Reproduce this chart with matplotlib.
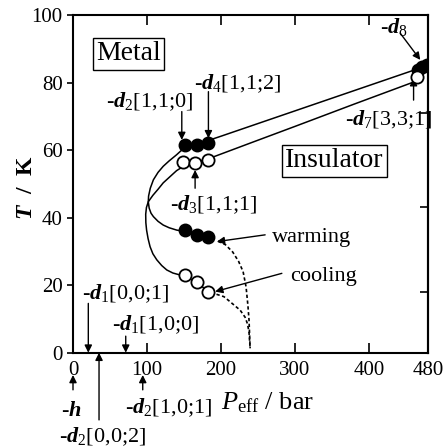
import matplotlib
matplotlib.use("Agg")
import matplotlib.pyplot as plt

plt.rcParams["font.family"] = ["Liberation Serif", "DejaVu Serif"]
plt.rcParams["mathtext.fontset"] = "custom"
plt.rcParams["mathtext.rm"] = "Liberation Serif"
plt.rcParams["mathtext.it"] = "Liberation Serif:italic"
plt.rcParams["mathtext.bf"] = "Liberation Serif:bold"
plt.rcParams["mathtext.bfit"] = "Liberation Serif:bold:italic"

filled_P = [151.6, 167.4, 183.1, 151.6, 167.4, 183.1, 466, 472, 478]
filled_T = [61.5, 61.5, 62.2, 36.3, 34.9, 34.4, 83.8, 84.6, 85.3]
open_P = [149.2, 165.1, 183.1, 151.6, 167.4, 183.1, 465]
open_T = [56.6, 56.1, 57.1, 23.0, 21.0, 18.1, 81.7]

# warming boundary (solid)
warm_P = [478, 460, 380, 300, 240, 200, 185, 167, 152, 140, 130, 122, 115, 108.7,
          104.5, 102.2, 101.8, 103.0, 105.5, 108.7, 115, 122, 130, 140.3, 152, 167, 183]
warm_T = [85.2, 83.6, 77.6, 71.6, 67.1, 64.1, 63.0, 62.0, 61.0, 58.6, 56.8, 55.2, 53.4, 51.2,
          48.7, 46.4, 44.7, 42.8, 41.3, 40.3, 38.9, 37.8, 37.0, 36.3, 35.9, 35.0, 34.4]

# cooling boundary (solid)
cool_P = [465, 460, 380, 300, 240, 190, 170, 150, 140, 131, 122, 115, 108, 101.8, 99.3,
          98.3, 98.5, 99.5, 101.5, 104.2, 108, 113.3, 120, 126.8, 135, 151.6, 167.4, 183]
cool_T = [80.5, 80.1, 73.6, 67.0, 62.1, 58.0, 56.6, 55.3, 53.9, 52.1, 50.3, 48.4, 46.6, 44.7, 43.0,
          41.0, 38.5, 36.3, 33.8, 31.4, 29.3, 27.5, 25.8, 24.5, 23.6, 22.6, 20.8, 18.1]

# dotted continuations
warm_dot_P = [196, 206, 216, 224, 230, 234, 236.5, 238, 239.5]
warm_dot_T = [33.0, 32.0, 29.8, 27.0, 24.0, 19.5, 14.0, 9.7, 1.3]
cool_dot_P = [194, 204, 212.4, 220, 226, 232.7, 236, 238, 239.5]
cool_dot_T = [17.3, 16.6, 15.1, 13.7, 12.6, 10.5, 8.5, 6.0, 1.3]

x_ticks = [0, 100, 200, 300, 400, 480]
y_ticks = [0, 20, 40, 60, 80, 100]

fig = plt.figure(figsize=(4.45, 4.48), dpi=100)
ax = fig.add_axes([73 / 445, 1 - 352.7 / 448, 355 / 445, 337.7 / 448])

ax.plot(warm_P, warm_T, color="black", lw=1.1, zorder=2)
ax.plot(cool_P, cool_T, color="black", lw=1.1, zorder=2)
ax.plot(warm_dot_P, warm_dot_T, color="black", lw=1.2, ls=(0, (2, 1.5)), zorder=2)
ax.plot(cool_dot_P, cool_dot_T, color="black", lw=1.2, ls=(0, (2, 1.5)), zorder=2)
ax.plot(filled_P, filled_T, "o", ms=8.8, mfc="black", mec="black", mew=1.2, zorder=3)
ax.plot(open_P, open_T, "o", ms=8.8, mfc="white", mec="black", mew=1.3, zorder=4)

ax.set_xlim(0, 480)
ax.set_ylim(0, 100)
ax.set_xticks(x_ticks)
ax.set_yticks(y_ticks)
ax.tick_params(axis="x", direction="in", top=True, length=7, width=1.2, labelsize=15, pad=6)
ax.tick_params(axis="y", direction="out", length=4, width=1.2, labelsize=15)
for s in ax.spines.values():
    s.set_linewidth(1.5)
sec = ax.secondary_yaxis("right")
sec.set_yticks([18, 43, 71])
sec.set_yticklabels([])
sec.tick_params(direction="in", length=6, width=1.2)
sec.spines["right"].set_linewidth(1.5)

arrow = dict(arrowstyle="-|>", color="black", lw=1.0, mutation_scale=11, shrinkA=0, shrinkB=0)
fs = 16

def label(x, y, s, ha="center", size=fs):
    ax.text(x, y, s, ha=ha, va="center", fontsize=size, clip_on=False)

def arr(x0, y0, x1, y1):
    ax.annotate("", xy=(x1, y1), xytext=(x0, y0), arrowprops=arrow, annotation_clip=False)

# boxed region labels
box = dict(boxstyle="square,pad=0.12", fc="white", ec="black", lw=1.0)
ax.text(74.8, 88.5, "Metal", ha="center", va="center", fontsize=20, bbox=box)
ax.text(353.2, 56.8, "Insulator", ha="center", va="center", fontsize=20, bbox=box)

# annotations inside the plot
label(104.2, 74.3, r"-$\mathbfit{d}_{\mathrm{2}}$[1,1;0]")
arr(147.1, 71.4, 147.1, 63.0)
label(222.6, 79.8, r"-$\mathbfit{d}_{\mathrm{4}}$[1,1;2]")
arr(183.1, 77.3, 183.1, 63.5)
label(189.9, 43.7, r"-$\mathbfit{d}_{\mathrm{3}}$[1,1;1]")
arr(165.1, 48.7, 165.1, 54.1)
label(434.5, 96.5, r"-$\mathbfit{d}_{\mathrm{8}}$")
arr(442.5, 94.6, 469.6, 86.7)
label(426.7, 68.9, r"-$\mathbfit{d}_{\mathrm{7}}$[3,3;1]")
arr(460.5, 74.8, 460.5, 81.3)
label(268.9, 34.0, "warming", ha="left")
arr(259.8, 34.9, 194.5, 32.9)
label(293.6, 22.5, "cooling", ha="left")
arr(282.4, 23.5, 192.2, 18.1)
label(71.4, 17.6, r"-$\mathbfit{d}_{\mathrm{1}}$[0,0;1]")
arr(20.7, 14.6, 20.7, 0)
label(112, 8.2, r"-$\mathbfit{d}_{\mathrm{1}}$[1,0;0]")
arr(71.3, 4.9, 71.3, 0)

# annotations below the axis
label(-1.8, -17.5, r"-$\mathbfit{h}$")
arr(0, -11, 0, -6.6)
label(40.6, -24.9, r"-$\mathbfit{d}_{\mathrm{2}}$[0,0;2]")
arr(35.2, -19.9, 35.2, 0)
label(129.9, -16.4, r"-$\mathbfit{d}_{\mathrm{2}}$[1,0;1]")
arr(94.3, -11, 94.3, -6.6)
label(263, -14.9, r"$P_{\mathrm{eff}}$ / bar", size=19)

fig.text(27 / 445, 1 - 188 / 448, r"$\mathbfit{T}$  /  K", rotation=90, ha="center",
         va="center", fontsize=17, fontweight="bold")

fig.savefig("out.png", dpi=100)
